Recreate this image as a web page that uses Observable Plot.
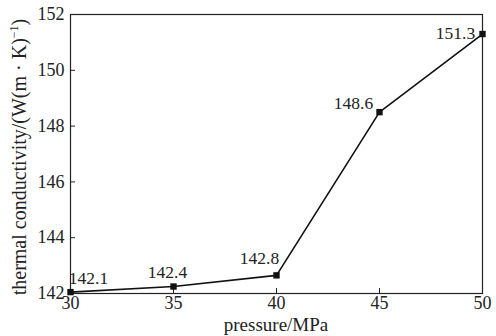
<!DOCTYPE html>
<html>
<head>
<meta charset="utf-8">
<script src="https://cdn.jsdelivr.net/npm/d3@7"></script>
<script src="https://cdn.jsdelivr.net/npm/@observablehq/plot@0.6"></script>
<style>
  html, body { margin: 0; padding: 0; background: #fff; }
  #chart svg { display: block; }
</style>
</head>
<body>
<div id="chart"></div>
<script>
const pressure = [30, 35, 40, 45, 50];
const conductivity = [142.05, 142.25, 142.65, 148.5, 151.3];
const pointLabels = ["142.1", "142.4", "142.8", "148.6", "151.3"];
const xTicks = [30, 35, 40, 45, 50];
const yTicks = [142, 144, 146, 148, 150, 152];
const xTitle = "pressure/MPa";
const yTitleMain = "thermal conductivity/(W(m \u00B7 K)";
const yTitleSup = "\u22121";
const yTitleEnd = ")";

const FONT = "Liberation Serif";

const data = pressure.map((p, i) => ({p, k: conductivity[i], label: pointLabels[i]}));
const labelOffsets = [[18, -14], [-6, -14], [-17, -17], [-26, -9], [-27, -1]];

const labelMarks = data.map((d, i) =>
  Plot.text([d], {x: "p", y: "k", text: "label", dx: labelOffsets[i][0], dy: labelOffsets[i][1],
    fontSize: 17.5, fill: "#222"})
);

const svg = Plot.plot({
  width: 496,
  height: 336,
  marginLeft: 70,
  marginRight: 14,
  marginTop: 14,
  marginBottom: 43,
  style: `font-family: "${FONT}", serif; font-size: 18px; color: #222; background: #fff;`,
  x: {domain: [30, 50]},
  y: {domain: [142, 152]},
  marks: [
    Plot.frame({stroke: "#222", strokeWidth: 1.2}),
    Plot.axisX({ticks: xTicks, tickSize: -5, tickFormat: () => "", label: null}),
    Plot.axisX({ticks: xTicks, tickSize: 0, tickPadding: 3, label: null, fontSize: 18}),
    Plot.axisY({ticks: yTicks, tickSize: -5, tickFormat: () => "", label: null}),
    Plot.axisY({ticks: yTicks, tickSize: 0, tickPadding: 6, label: null, fontSize: 18}),
    Plot.line(data, {x: "p", y: "k", stroke: "#111", strokeWidth: 1.6}),
    Plot.dot(data, {x: "p", y: "k", symbol: "square", r: 3.6, fill: "#111", stroke: "none"}),
    ...labelMarks
  ]
});

const s = d3.select(svg);
s.append("text")
  .attr("x", (70 + 482) / 2)
  .attr("y", 331)
  .attr("text-anchor", "middle")
  .attr("font-size", 19)
  .attr("fill", "#222")
  .text(xTitle);

const yt = s.append("text")
  .attr("transform", "translate(26,157) rotate(-90)")
  .attr("text-anchor", "middle")
  .attr("font-size", 20)
  .attr("fill", "#222");
yt.append("tspan").text(yTitleMain);
yt.append("tspan").attr("font-size", 12).attr("dy", -8).text(yTitleSup);
yt.append("tspan").attr("dy", 8).text(yTitleEnd);

s.selectAll("g").attr("font-family", null).attr("font-variant", null);
s.selectAll("text").each(function() {
  this.style.setProperty("font-family", `"${FONT}", serif`, "important");
  this.style.setProperty("font-variant", "normal", "important");
});

document.getElementById("chart").appendChild(svg);
</script>
</body>
</html>
